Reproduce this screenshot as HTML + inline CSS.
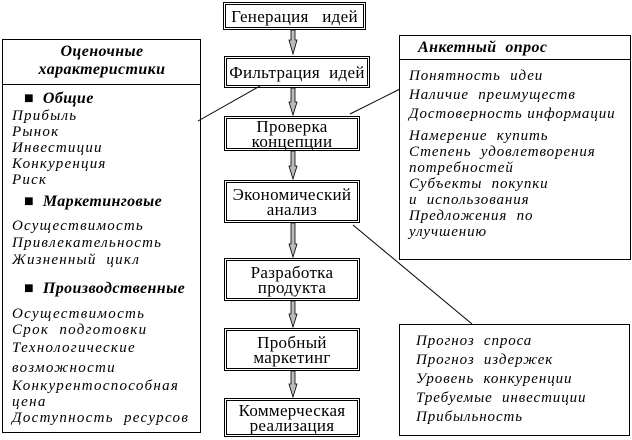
<!DOCTYPE html>
<html><head><meta charset="utf-8"><style>
body{margin:0;width:632px;height:440px;background:#fff;position:relative;overflow:hidden;font-family:"Liberation Serif","DejaVu Serif",serif;}
.b{position:absolute;border:1px solid #000;box-sizing:border-box;}
.c{position:absolute;border:3px double #000;box-sizing:border-box;text-align:center;font-size:17px;line-height:15px;letter-spacing:0.3px;display:flex;align-items:center;justify-content:center;}
.t{position:absolute;font-style:italic;font-size:15px;line-height:16px;white-space:nowrap;letter-spacing:0.9px;}
.h{position:absolute;font-style:italic;font-weight:bold;font-size:16px;white-space:nowrap;letter-spacing:0.4px;}
</style></head><body>
<svg width="632" height="440" style="position:absolute;left:0;top:0">
<g stroke="#000" stroke-width="1">
<line x1="198" y1="121" x2="260" y2="86"/>
<line x1="350" y1="114" x2="400" y2="89"/>
<line x1="353" y1="225" x2="472" y2="324"/>
</g>
<g fill="#bbb" stroke="#000" stroke-width="0.8">
<path d="M291 30 h4 v10 h2 l-4 14 l-4 -14 h2z"/>
<path d="M291 88 h4 v14 h2 l-4 13 l-4 -13 h2z"/>
<path d="M291 151 h4 v15 h2 l-4 13 l-4 -13 h2z"/>
<path d="M291 223 h4 v21 h2 l-4 13 l-4 -13 h2z"/>
<path d="M291 301 h4 v13 h2 l-4 13 l-4 -13 h2z"/>
<path d="M291 371 h4 v13 h2 l-4 13 l-4 -13 h2z"/>
</g>
</svg>
<div class="c" style="left:223px;top:2px;width:143px;height:28px;">Генерация&nbsp;&nbsp; идей</div>
<div class="c" style="left:224px;top:56px;width:146px;height:32px;">Фильтрация&nbsp; идей</div>
<div class="c" style="left:224px;top:116px;width:136px;height:35px;">Проверка<br>концепции</div>
<div class="c" style="left:224px;top:180px;width:136px;height:43px;">Экономический<br>анализ</div>
<div class="c" style="left:224px;top:258px;width:136px;height:43px;">Разработка<br>продукта</div>
<div class="c" style="left:224px;top:328px;width:136px;height:43px;">Пробный<br>маркетинг</div>
<div class="c" style="left:224px;top:398px;width:136px;height:39px;">Коммерческая<br>реализация</div>

<div class="b" style="left:2px;top:39px;width:199px;height:394px;"></div>
<div style="position:absolute;left:2px;top:84px;width:199px;border-top:1px solid #000"></div>
<div class="h" style="left:0;width:204px;text-align:center;top:43px;line-height:18px;">Оценочные<br>характеристики</div>
<div class="h" style="left:24px;top:90px;">■&nbsp; Общие</div>
<div class="t" style="left:12px;top:108px;letter-spacing:1.2px;">Прибыль<br>Рынок<br>Инвестиции<br>Конкуренция<br>Риск</div>
<div class="h" style="left:24px;top:193px;">■&nbsp; Маркетинговые</div>
<div class="t" style="left:12px;top:218px;line-height:17px;letter-spacing:1.2px;">Осуществимость<br>Привлекательность<br>Жизненный&nbsp; цикл</div>
<div class="h" style="left:24px;top:280px;">■&nbsp; Производственные</div>
<div class="t" style="left:12px;top:306px;line-height:16px;letter-spacing:1.3px;">Осуществимость<br>Срок&nbsp; подготовки<br><span style="line-height:20px">Технологические</span><br><span style="line-height:20px">возможности</span><br>Конкурентоспособная<br>цена<br>Доступность&nbsp; ресурсов</div>

<div class="b" style="left:399px;top:35px;width:232px;height:225px;"></div>
<div style="position:absolute;left:399px;top:59px;width:232px;border-top:1px solid #000"></div>
<div class="h" style="left:418px;top:39px;">Анкетный&nbsp; опрос</div>
<div class="t" style="left:409px;top:67px;line-height:19px;">Понятность&nbsp; идеи<br>Наличие&nbsp; преимуществ<br>Достоверность информации</div>
<div class="t" style="left:409px;top:128px;line-height:16px;">Намерение&nbsp; купить<br>Степень&nbsp; удовлетворения<br>потребностей<br>Субъекты&nbsp; покупки<br><span style="line-height:14px">и&nbsp; использования</span><br>Предложения&nbsp; по<br>улучшению</div>

<div class="b" style="left:399px;top:324px;width:231px;height:112px;"></div>
<div class="t" style="left:416px;top:332px;line-height:19px;">Прогноз&nbsp; спроса<br>Прогноз&nbsp; издержек<br>Уровень&nbsp; конкуренции<br>Требуемые&nbsp; инвестиции<br>Прибыльность</div>
</body></html>
